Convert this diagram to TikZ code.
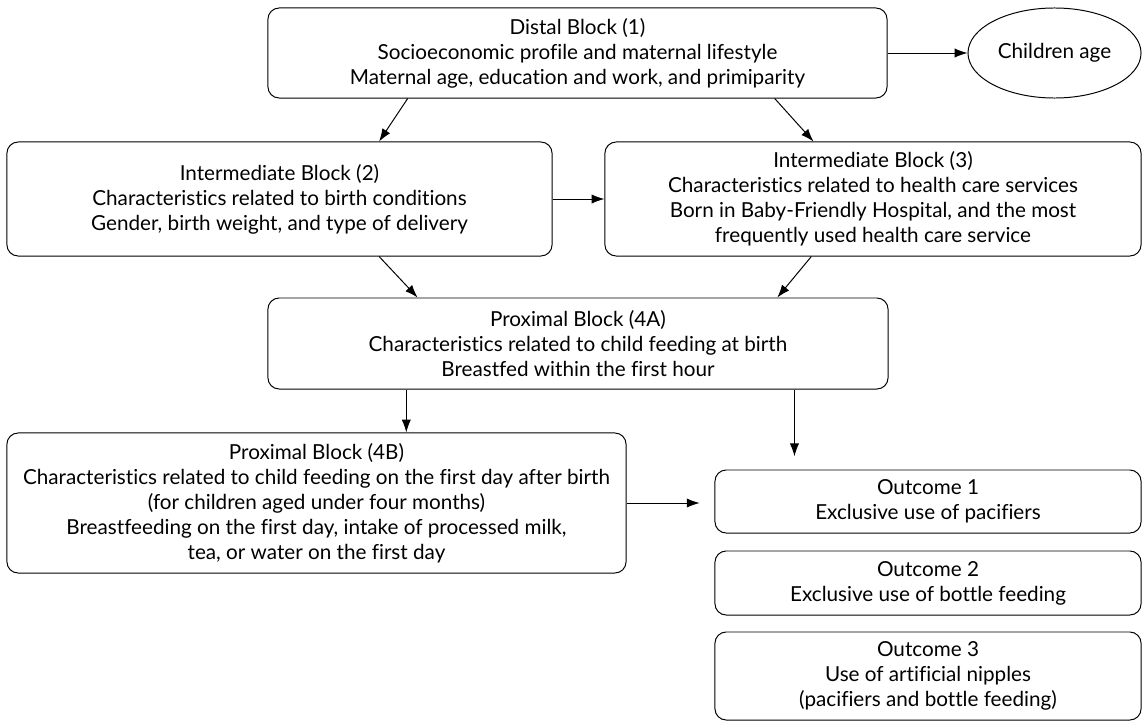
\documentclass[tikz,border=0pt]{standalone}
\usepackage{fontspec}
\setmainfont{Lato}[RawFeature={-liga}]
\usetikzlibrary{arrows.meta, shapes.geometric}

\begin{document}
\begin{tikzpicture}[x=0.025cm, y=-0.025cm,
  blk/.style={rectangle, draw, rounded corners=8pt, line width=0.7pt,
              align=center, inner sep=2pt, font=\fontsize{14.7}{17.8}\selectfont},
  oval/.style={ellipse, draw, line width=0.7pt, inner sep=0pt,
               font=\fontsize{14.7}{17.8}\selectfont},
  arrow/.style={-{Latex[length=3.2mm, width=2.3mm]}, line width=0.7pt}
]
\useasboundingbox (0,0) rectangle (1143,723);

%% Blocks
\node[blk, minimum width=15.475cm, minimum height=2.25cm] at (577.5,53) (distal)
  {Distal Block (1)\\Socioeconomic profile and maternal lifestyle\\Maternal age, education and work, and primiparity};
\node[oval, minimum width=4.325cm, minimum height=2.25cm] at (1054.5,53) (age) {Children age};
\node[blk, minimum width=13.625cm, minimum height=2.85cm] at (279.5,199) (int2)
  {Intermediate Block (2)\\Characteristics related to birth conditions\\Gender, birth weight, and type of delivery};
\node[blk, minimum width=13.4cm, minimum height=2.85cm] at (873,199) (int3)
  {Intermediate Block (3)\\Characteristics related to health care services\\Born in Baby-Friendly Hospital, and the most\\frequently used health care service};
\node[blk, minimum width=15.5cm, minimum height=2.275cm] at (578,343.5) (pa)
  {Proximal Block (4A)\\Characteristics related to child feeding at birth\\Breastfed within the first hour};
\node[blk, minimum width=15.475cm, minimum height=3.5cm] at (316.5,503) (pb)
  {Proximal Block (4B)\\Characteristics related to child feeding on the first day after birth\\(for children aged under four months)\\Breastfeeding on the first day, intake of processed milk,\\tea, or water on the first day};

%% Outcomes
\node[blk, minimum width=10.65cm, minimum height=1.575cm] at (928,501.5) (out1)
  {Outcome 1\\Exclusive use of pacifiers};
\node[blk, minimum width=10.65cm, minimum height=1.6cm] at (928,583) (out2)
  {Outcome 2\\Exclusive use of bottle feeding};
\node[blk, minimum width=10.65cm, minimum height=2.2cm] at (928,676) (out3)
  {Outcome 3\\Use of artificial nipples\\(pacifiers and bottle feeding)};

%% Arrows
\draw[arrow] (distal.east) -- (age.west);
\draw[arrow] (distal.195.7) -- (int2.30);
\draw[arrow] (distal.347) -- (int3.136.9);
\draw[arrow] (int2.east) -- (int3.west);
\draw[arrow] (int2.-30.8) -- (pa.164.2);
\draw[arrow] (int3.223.5) -- (pa.13.2);
\draw[arrow] (pa.-165.9) -- (pa.-165.9 |- pb.north);
\draw[arrow, shorten >=0.33cm] (pa.-12) -- (pa.-12 |- out1.north);
\draw[arrow, shorten >=0.37cm] (pb.east) -- (out1.west |- pb.east);
\end{tikzpicture}
\end{document}
